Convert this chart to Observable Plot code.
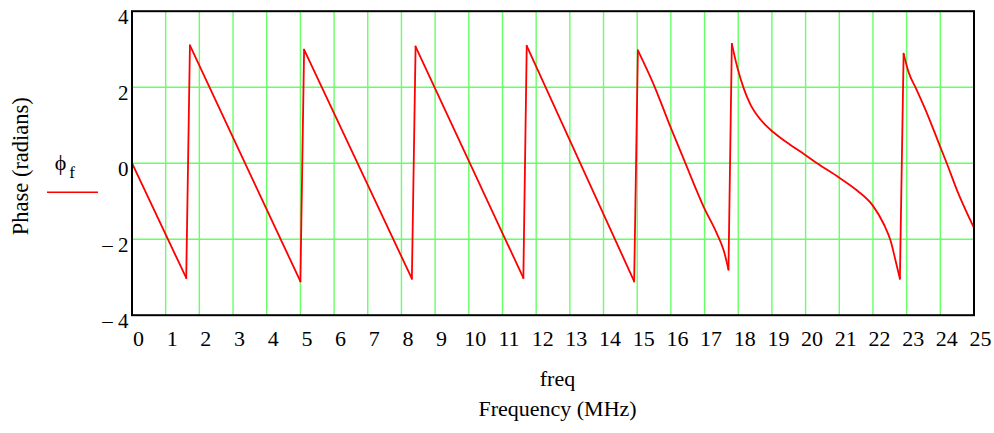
<!DOCTYPE html>
<html><head><meta charset="utf-8">
<script src="https://cdn.jsdelivr.net/npm/d3@7"></script>
<script src="https://cdn.jsdelivr.net/npm/@observablehq/plot@0.6"></script>
<style>body{margin:0;background:#fff} svg{font-family:"Liberation Serif",serif}</style>
</head><body><div id="chart"></div>
<script>
const freq = [0, 1.61, 1.72, 5.00, 5.11, 8.31, 8.42, 11.62, 11.72, 14.91, 15.02, 15.49, 15.99, 16.43, 16.98, 17.37, 17.57, 17.71, 17.81, 17.97, 18.17, 18.36, 18.66, 18.96, 19.25, 19.55, 19.97, 20.34, 20.98, 21.53, 21.99, 22.32, 22.52, 22.67, 22.80, 22.91, 23.06, 23.26, 23.61, 23.98, 24.2, 24.5, 25];
const phase = [0, -3.02, 3.10, -3.11, 2.99, -3.04, 3.07, -3.02, 3.09, -3.11, 2.97, 2.07, 0.95, 0.0, -1.16, -1.86, -2.3, -2.8, 3.14, 2.53, 1.95, 1.55, 1.15, 0.88, 0.67, 0.48, 0.23, 0.0, -0.37, -0.72, -1.11, -1.6, -2.03, -2.56, -3.04, 2.88, 2.39, 2.0, 1.3, 0.47, -0.02, -0.72, -1.7];
const xTicks = d3.range(0, 26);
const xGrid = d3.range(1, 25);
const yTicks = [-4, -2, 0, 2, 4];
const yGrid = [-2, 0, 2];
const xLabel = "freq";
const xTitle = "Frequency (MHz)";
const yTitle = "Phase (radians)";
const legendSymbol = "ϕ";
const legendSub = "f";

// split the wrapped phase into continuous branches; the wrap jumps are drawn as links
let seg = 0;
const data = freq.map((f, i) => {
  if (i > 0 && phase[i] - phase[i - 1] > 3) seg++;
  return {f, p: phase[i], seg};
});
const jumps = [];
for (let i = 1; i < data.length; i++) {
  if (data[i].seg !== data[i - 1].seg) jumps.push({x1: data[i - 1].f, y1: data[i - 1].p, x2: data[i].f, y2: data[i].p});
}

const legendLine = (index, scales, values, dim) => {
  const g = d3.create("svg:g");
  const y = dim.marginTop + 181.5;
  g.append("line")
    .attr("x1", dim.marginLeft - 84.5).attr("x2", dim.marginLeft - 33.5)
    .attr("y1", y).attr("y2", y)
    .attr("stroke", "red").attr("stroke-width", 1.6);
  return g.node();
};

const chart = Plot.plot({
  width: 994, height: 433,
  marginLeft: 131.5, marginRight: 20.5, marginTop: 10.7, marginBottom: 118.3,
  style: {fontFamily: "Liberation Serif", background: "white", color: "black"},
  x: {domain: [0, 25]},
  y: {domain: [-4, 4]},
  marks: [
    Plot.gridX(xGrid, {stroke: "#66ff66", strokeOpacity: 1, strokeWidth: 1.4}),
    Plot.gridY(yGrid, {stroke: "#66ff66", strokeOpacity: 1, strokeWidth: 1.4}),
    Plot.line(data, {x: "f", y: "p", z: "seg", curve: "monotone-x", stroke: "red", strokeWidth: 1.8, strokeLinecap: "round", strokeLinejoin: "round"}),
    Plot.link(jumps, {x1: "x1", y1: "y1", x2: "x2", y2: "y2", stroke: "red", strokeWidth: 1.8, strokeLinecap: "round"}),
    Plot.frame({stroke: "black", strokeWidth: 2}),
    Plot.axisX(xTicks, {tickSize: 0, tickPadding: 15, fontSize: 22, dx: 6.5, label: null, fill: "black"}),
    Plot.axisY(yTicks, {tickSize: 0, tickPadding: 3.5, fontSize: 21, dy: 6, label: null, fill: "black",
      tickFormat: d => d < 0 ? "– " + (-d) : String(d)}),
    Plot.text([xLabel], {frameAnchor: "bottom", textAnchor: "middle", lineAnchor: "middle", dx: 4.5, dy: 64, fontSize: 22, fill: "black"}),
    Plot.text([xTitle], {frameAnchor: "bottom", textAnchor: "middle", lineAnchor: "middle", dx: 4.5, dy: 94, fontSize: 22, fill: "black"}),
    Plot.text([yTitle], {frameAnchor: "left", textAnchor: "middle", lineAnchor: "middle", dx: -111.5, dy: 3, rotate: -90, fontSize: 22.5, fill: "black"}),
    Plot.text([legendSymbol], {frameAnchor: "left", textAnchor: "middle", lineAnchor: "middle", dx: -71.5, dy: 0, fontSize: 22, fill: "black"}),
    Plot.text([legendSub], {frameAnchor: "left", textAnchor: "middle", lineAnchor: "middle", dx: -60, dy: 9, fontSize: 17, fill: "black"}),
    legendLine
  ]
});
document.getElementById("chart").appendChild(chart);
</script>
</body></html>
